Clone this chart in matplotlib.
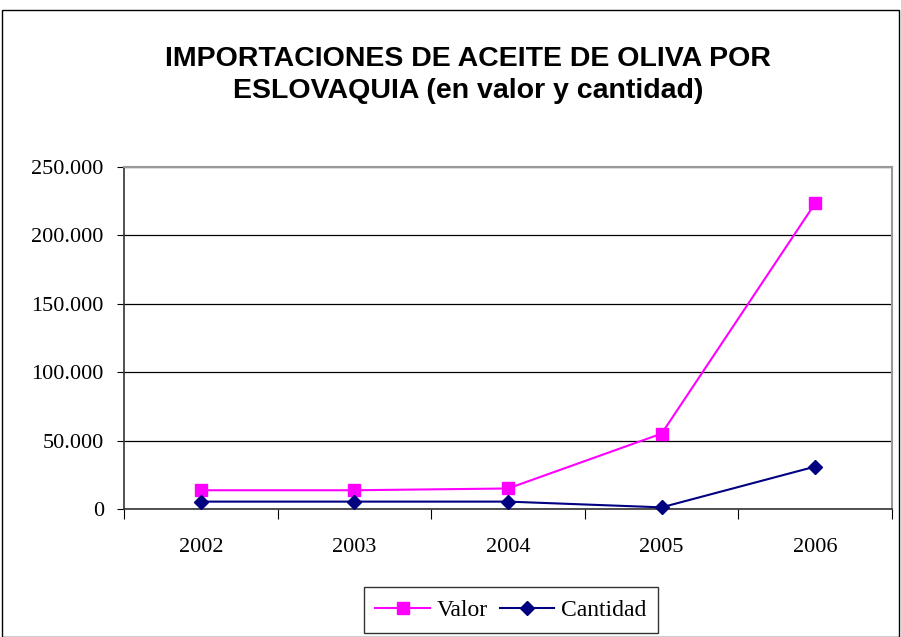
import matplotlib
matplotlib.use("Agg")
import matplotlib.pyplot as plt
from matplotlib.ticker import FuncFormatter, FixedLocator
from matplotlib.patches import Rectangle

years = ["2002", "2003", "2004", "2005", "2006"]
valor = [13700, 13700, 15000, 55100, 223500]
cantidad = [5400, 5400, 5400, 1200, 31000]
title = "IMPORTACIONES DE ACEITE DE OLIVA POR\nESLOVAQUIA (en valor y cantidad)"

W, H = 901, 637
fig = plt.figure(figsize=(W / 100, H / 100), dpi=100)
fig.patch.set_facecolor("white")
fig.patches.append(Rectangle((2 / W, 0), 897 / W, 627 / H, transform=fig.transFigure,
                             fill=False, edgecolor="black", linewidth=1.0))

ax = fig.add_axes([124 / W, 1 - 509 / H, (892 - 124) / W, (509 - 167) / H])
x = list(range(len(years)))
ax.plot(x, valor, color="#FF00FF", marker="s", markersize=9, linewidth=1.5, label="Valor", clip_on=False, zorder=3)
ax.plot(x, cantidad, color="#000080", marker="D", markersize=7, linewidth=1.5, label="Cantidad", clip_on=False, zorder=3)

ax.set_xlim(-0.5, len(years) - 0.5)
ax.set_ylim(0, 250000)
ax.yaxis.set_major_locator(FixedLocator([0, 50000, 100000, 150000, 200000, 250000]))
ax.yaxis.set_major_formatter(FuncFormatter(lambda v, p: f"{int(v):,}".replace(",", ".")))
ax.grid(axis="y", color="black", linewidth=0.9)
ax.set_axisbelow(True)

ax.xaxis.set_major_locator(FixedLocator([i - 0.5 for i in range(len(years) + 1)]))
ax.xaxis.set_major_formatter(FuncFormatter(lambda v, p: ""))
ax.xaxis.set_minor_locator(FixedLocator(x))
ax.set_xticklabels(years, minor=True)
ax.tick_params(axis="x", which="minor", length=0, pad=21)
ax.tick_params(axis="x", which="major", length=7, direction="out", color="black")
ax.tick_params(axis="y", length=5, direction="out", color="black", pad=9.5)
for lab in ax.get_xticklabels(minor=True) + ax.get_yticklabels():
    lab.set_fontfamily("Liberation Serif")
    lab.set_fontsize(16)

for s in ["top", "right"]:
    ax.spines[s].set_color("#999999")
    ax.spines[s].set_linewidth(1.5)
for s in ["left", "bottom"]:
    ax.spines[s].set_color("#333333")
    ax.spines[s].set_linewidth(1.2)

fig.text(468 / W, 1 - 75 / H, title, ha="center", va="center", fontsize=20.5, fontweight="bold",
         family="Liberation Sans", linespacing=1.3)

leg = fig.legend(loc="center", bbox_to_anchor=(511 / W, 1 - 610 / H), ncol=2,
                 prop={"family": "Liberation Serif", "size": 17}, frameon=True, fancybox=False,
                 edgecolor="black", handlelength=2.3, columnspacing=0.5, handletextpad=0.3,
                 borderpad=0.5, borderaxespad=0)
leg.get_frame().set_linewidth(1.0)

fig.savefig("out.png", dpi=100)
